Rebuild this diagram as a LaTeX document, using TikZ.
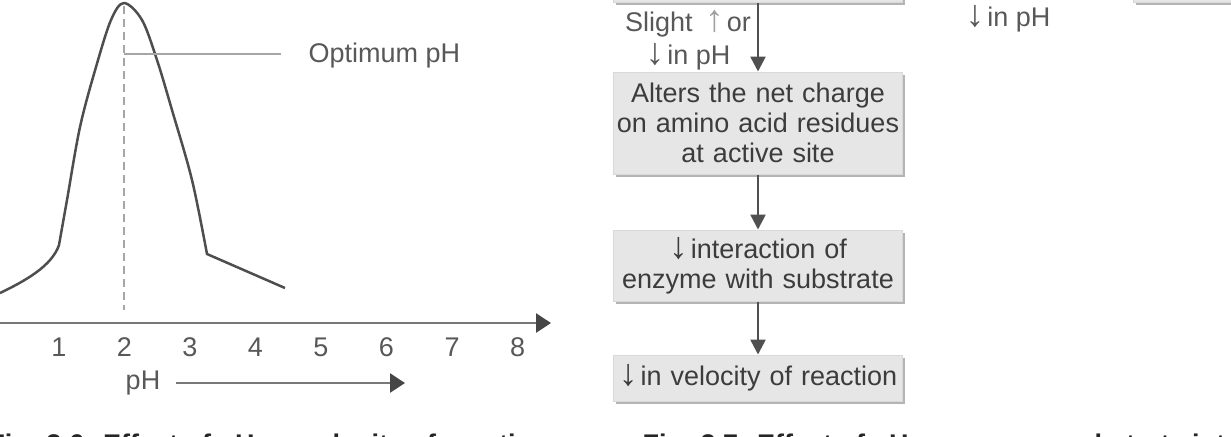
\documentclass[tikz,border=0pt]{standalone}
\usepackage{fontspec}
\setmainfont{Liberation Sans}
\usetikzlibrary{arrows.meta,positioning,shadows}
\newcommand{\figfont}{\fontsize{10.8pt}{12pt}\selectfont}
\newcommand{\dnar}{{\fontsize{15pt}{12pt}\selectfont ↓}\hspace{1.2pt}}
\newcommand{\upar}{{\fontsize{15pt}{12pt}\selectfont ↑}\hspace{1.2pt}}
\definecolor{curvegray}{RGB}{78,78,78}
\definecolor{axisgray}{RGB}{120,120,120}
\definecolor{axishead}{RGB}{70,70,70}
\definecolor{txtgray}{RGB}{88,88,88}
\definecolor{boxtext}{RGB}{60,60,60}
\definecolor{boxfill}{RGB}{230,230,230}
\definecolor{boxshade}{RGB}{180,180,180}
\definecolor{flowgray}{RGB}{80,80,80}
\tikzset{
  flowbox/.style={rectangle, draw=gray!30, fill=boxfill, text=boxtext,
                  minimum width=115.6pt, text width=114.4pt, align=center,
                  inner xsep=0.6pt, inner ysep=1.5pt, font=\figfont,
                  drop shadow={shadow xshift=0.8pt, shadow yshift=-1pt, fill=boxshade, opacity=1}},
  ar/.style={-{Triangle[length=6pt,width=6pt]}, line width=1pt, draw=flowgray},
  axar/.style={-{Triangle[length=6pt,width=7.6pt,color=axishead]}, line width=1.1pt, draw=axisgray},
  lbl/.style={font=\figfont, text=txtgray, align=center, inner sep=0pt},
  caplbl/.style={font=\figfont\bfseries, text=black!85, inner sep=0pt, anchor=base west},
}

\begin{document}
\begin{tikzpicture}[x=0.4pt,y=-0.4pt,
  curve/.style={line width=1pt, draw=curvegray, line join=round},
  guide/.style={line width=0.8pt, draw=gray!70},
]
\path[use as bounding box, clip] (0,0) rectangle (1231,436);

% ===================== velocity against pH =====================
\coordinate (ax0) at (0,323);
\coordinate (axend) at (551,323);
\draw[axar] (ax0) -- (axend);
\foreach \n in {1,...,8}
  \node[lbl] (tick\n) at ({59+65.5*(\n-1)},347) {\n};
\node[lbl] (phlbl) at (143,383) {pH};
\coordinate (phend) at (405,383);
\draw[axar] ([xshift=6pt]phlbl.east) -- (phend);

\coordinate (peak) at (124,3);
\draw[guide, dashed, dash pattern=on 3.2pt off 2pt] (124,6) -- (124,310);
\draw[curve] (0,293) .. controls (25,281) and (52,266) .. (59,245)
  -- plot[smooth, tension=0.55] coordinates {(59,245) (67,200) (80,127) (96,67) (111,20) (peak)
     (142,20) (157,60) (172,110) (192,180) (207,254)}
  -- (285,288);

\coordinate (optstart) at (124,54);
\node[lbl, anchor=west] (optlbl) at (308,56) {Optimum pH};
\draw[guide] (optstart) -- (281,54);

% ===================== effect on the enzyme =====================
\node[flowbox, minimum height=40pt, anchor=south] (cause) at (758,3) {};
\node[flowbox, anchor=south west] (sidebox) at (1133,3) {};
\node[flowbox, minimum height=40.8pt] (charge) at (758,123)
  {Alters the net charge\\on amino acid residues\\at active site};
\node[flowbox, minimum height=28.4pt, below=22pt of charge] (inter)
  {\dnar interaction of\\enzyme with substrate};
\node[flowbox, minimum height=18.4pt, below=21.2pt of inter] (veloc)
  {\dnar in velocity of reaction};

\draw[ar] (cause.south) -- (charge.north);
\draw[ar] (charge.south) -- (inter.north);
\draw[ar] (inter.south) -- (veloc.north);
\node[lbl] (slightlbl) at (688,40)
  {Slight\hspace{5pt}\textcolor{gray!75}{\upar}or\\[1.2pt]\dnar in pH};
\node[lbl] (sidelbl) at (1008,19) {\dnar in pH};

% ===================== captions (cut by the frame) =====================
\node[caplbl] (cap1) at (-12,453) {Fig. 3.6: Effect of pH on velocity of reaction};
\node[caplbl] (cap2) at (642,453) {Fig. 3.7: Effect of pH on enzyme substrate interaction};

\end{tikzpicture}
\end{document}
